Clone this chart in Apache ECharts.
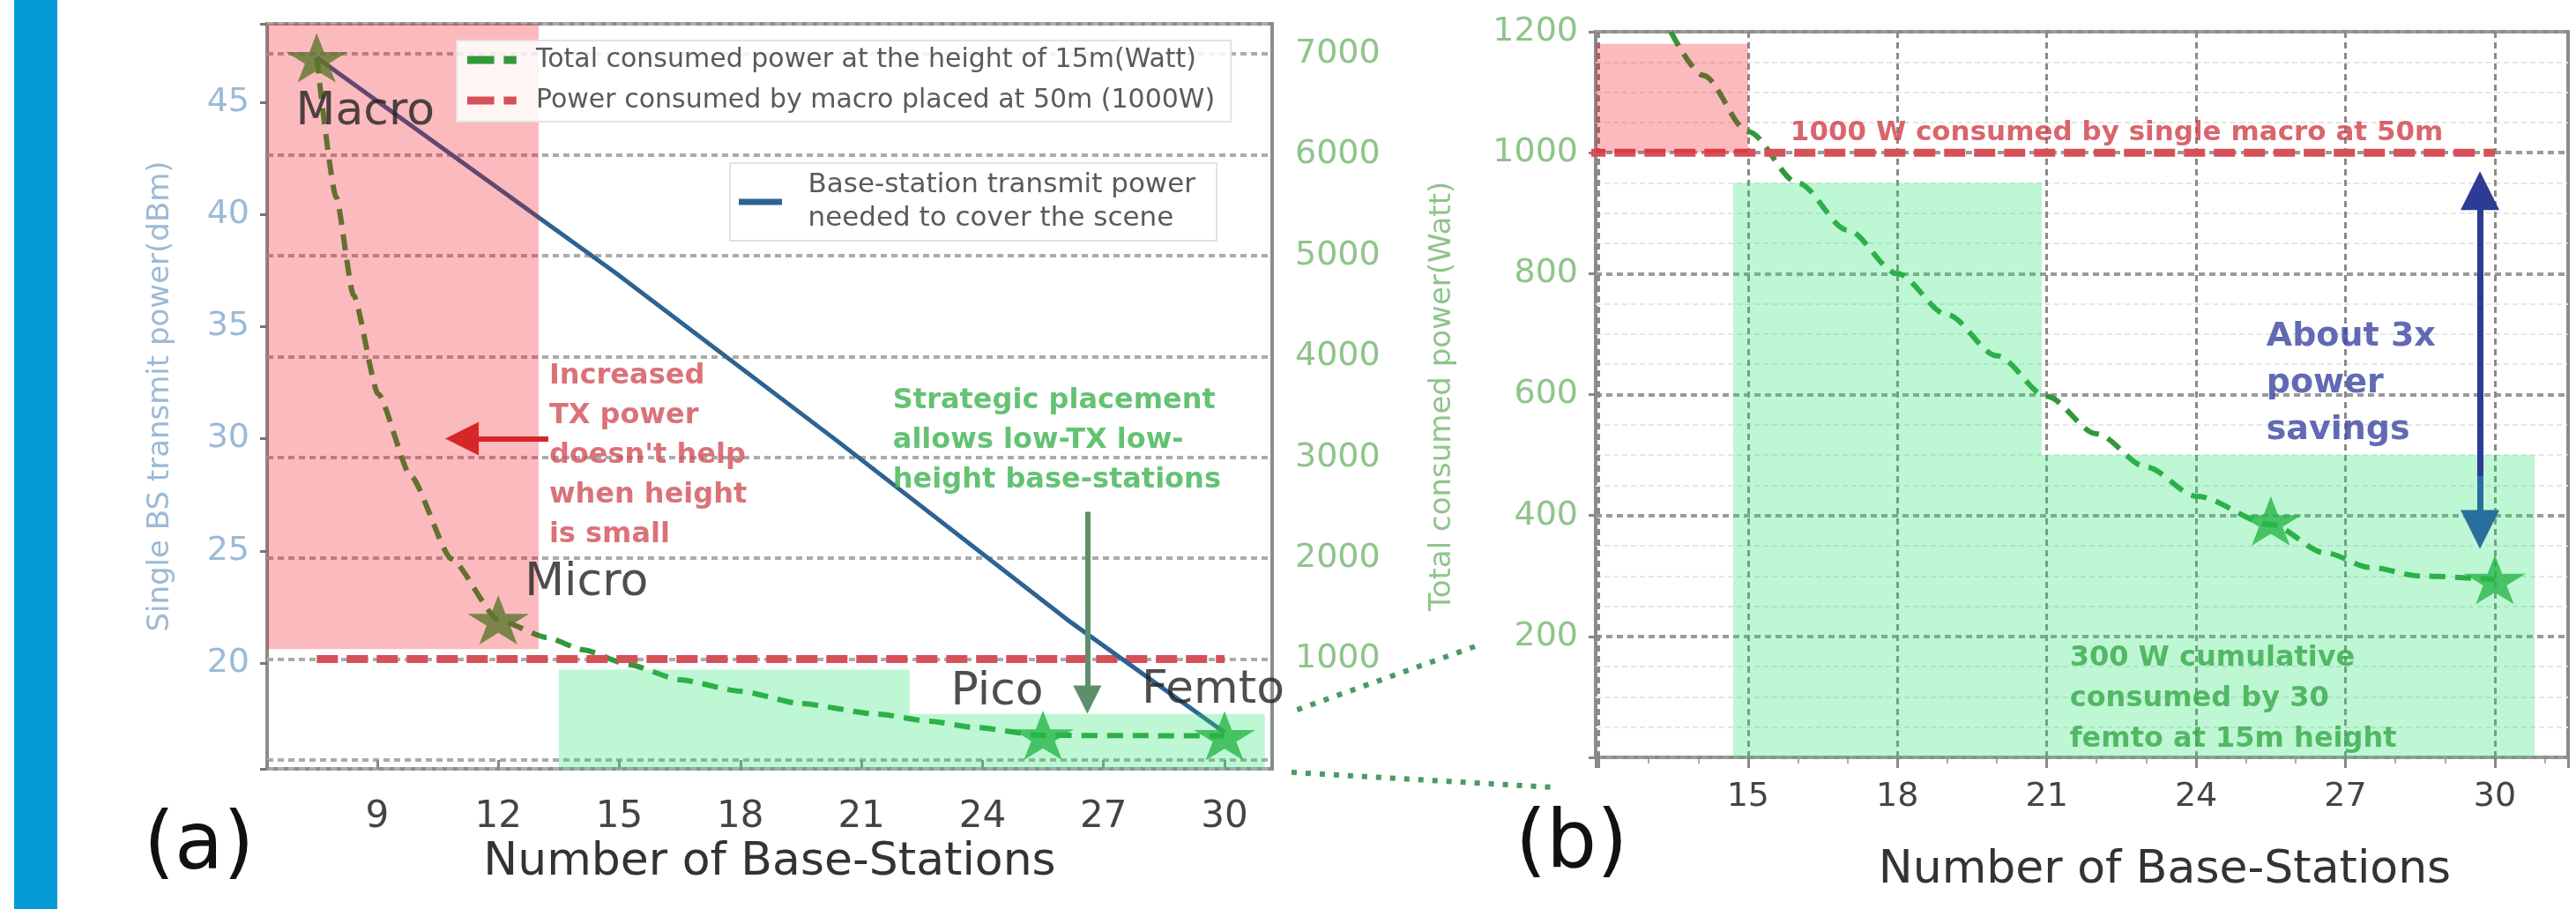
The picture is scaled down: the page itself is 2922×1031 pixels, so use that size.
<!DOCTYPE html>
<html>
<head>
<meta charset="utf-8">
<script src="https://cdn.jsdelivr.net/npm/echarts@6/dist/echarts.min.js"></script>
<style>
html,body{margin:0;padding:0;background:#ffffff;}
#c{width:2922px;height:1031px;}
</style>
</head>
<body>
<div id="c"></div>
<script>
// ================= DATA =================
// stations (star markers)
const stationNames = ['Macro', 'Micro', 'Pico', 'Femto'];
const stationX = [7.5, 12, 25.5, 30];
const stationPowerA = [6960, 1390, 245, 240];       // panel (a), Watt
const stationXB = [25.5, 30];
const stationPowerB = [391, 294];                    // panel (b), Watt

// total consumed power curve at 15 m (panel a)
const curveAX = [7.5, 7.98, 8.41, 9.02, 9.83, 10.84, 12, 13.2, 14.1, 15.25, 16.5, 18, 19.5, 21.4, 22.7, 23.8, 25.5, 27.75, 30];
const curveAW = [6960, 5580, 4610, 3630, 2815, 1993, 1390, 1215, 1093, 944, 795, 682, 559, 455, 385, 323, 245, 242, 240];

// same curve as drawn in the zoomed panel (b)
const curveBX = [13.45, 14.1, 15.0, 16.0, 17.0, 18.0, 19.0, 20.0, 21.0, 22.0, 23.0, 24.0, 25.5, 26.6, 27.5, 28.5, 30];
const curveBW = [1200, 1128, 1035, 950, 872, 800, 732, 664, 597, 535, 480, 432, 385, 338, 314, 300, 294];

// single BS transmit power (dBm)
const txX = [7.5, 14.9, 20.4, 26.2, 30];
const txDbm = [47.0, 37.4, 29.9, 21.8, 16.9];

// macro at 50 m reference level
const macroLineX = [7.5, 30];
const macroLineW = [1000, 1000];

// tick labels
const xTicksA = [9, 12, 15, 18, 21, 24, 27, 30];
const yTicksLeftA = [20, 25, 30, 35, 40, 45];
const yTicksRightA = [1000, 2000, 3000, 4000, 5000, 6000, 7000];
const xTicksB = [15, 18, 21, 24, 27, 30];
const yTicksB = [200, 400, 600, 800, 1000, 1200];

// shaded regions [x0, x1, w0, w1]
const regionsA = [[6.27, 13.0, 1100, 7297], [13.5, 22.2, -87, 897], [22.2, 31.0, -87, 457]];
const regionKindA = ['pink', 'green', 'green'];
const regionsB = [[11.94, 15.0, 1000, 1180], [14.7, 20.9, 0, 950], [20.9, 30.8, 0, 500]];
const regionKindB = ['pink', 'green', 'green'];

// arrows [x0, y0, x1, y1]
const redArrowA = [13.24, 30, 11.1, 30];          // left axis (dBm)
const greenArrowA = [26.6, 2460, 26.6, 600];       // right axis (W)
const savingsArrowUp = [29.7, 465, 29.7, 937];     // panel b (W)
const savingsArrowDown = [29.7, 465, 29.7, 377];

// annotation texts and anchors
const noteRedA = "Increased\nTX power\ndoesn't help\nwhen height\nis small";
const noteRedAPos = [13.26, 4000];
const noteGreenA = "Strategic placement\nallows low-TX low-\nheight base-stations";
const noteGreenAPos = [21.78, 3755];
const noteRedB = "1000 W consumed by single macro at 50m";
const noteRedBPos = [15.85, 1033];
const noteNavyB = "About 3x\npower\nsavings";
const noteNavyBPos = [25.41, 734];
const noteGreenB = "300 W cumulative\nconsumed by 30\nfemto at 15m height";
const noteGreenBPos = [21.46, 197];

// connector anchors (panel a point -> panel b point)
const connUpper = [[31.8, 498], [9.67, 188]];
const connLower = [[31.66, -122], [11.16, -50]];

const NAME_CURVE = 'Total consumed power at the height of 15m(Watt)';
const NAME_MACRO = 'Power consumed by macro placed at 50m (1000W)';
const NAME_TX = 'Base-station transmit power needed to cover the scene';

// ================= STYLE / CHART =================
const FONT = '"DejaVu Sans", Verdana, sans-serif';
const zip = (a, b) => a.map((v, i) => [v, b[i]]);
const STAR = 'path://M50,0 L61.2,34.5 L97.6,34.5 L68.2,55.9 L79.4,90.5 L50,69.1 L20.6,90.5 L31.8,55.9 L2.4,34.5 L38.8,34.5 Z';
const ICON_DASH = 'path://M0,0 H34 V10 H0 Z M46,0 H62 V10 H46 Z';
const ICON_SOLID = 'path://M0,0 H70 V10 H0 Z';
const regionFill = {pink: 'rgba(240,0,14,0.27)', green: 'rgba(40,230,110,0.30)'};
const C_GREEN_LINE = '#2f9a3a';
const C_RED_LINE = '#d65058';
const C_BLUE = '#2d6393';
const C_STAR = '#28a33a';
const labelOffsets = [[55, 62], [100, -41], [-52, -49], [-13, -51]];

function regionRenderer(kinds) {
  return function (params, api) {
    const a = api.coord([api.value(0), api.value(3)]);
    const b = api.coord([api.value(1), api.value(2)]);
    const cs = params.coordSys;
    const shape = echarts.graphic.clipRectByRect(
      {x: a[0], y: a[1], width: b[0] - a[0], height: b[1] - a[1]},
      {x: cs.x, y: cs.y, width: cs.width, height: cs.height});
    if (!shape) return;
    return {type: 'rect', shape: shape, style: {fill: regionFill[kinds[params.dataIndex]]}};
  };
}

function noteSeries(xi, yi, pos, text, color, size, lh, vAlign) {
  return {
    type: 'scatter', xAxisIndex: xi, yAxisIndex: yi, z: 20, silent: true,
    symbolSize: 1, itemStyle: {color: 'rgba(0,0,0,0)'},
    data: [pos],
    label: {
      show: true, position: 'inside', align: 'left', verticalAlign: vAlign || 'top',
      formatter: () => text, color: color, fontSize: size, fontWeight: 'bold',
      lineHeight: lh, fontFamily: FONT
    }
  };
}

function arrowSeries(xi, yi, seg, color, width, size) {
  return {
    type: 'lines', coordinateSystem: 'cartesian2d', xAxisIndex: xi, yAxisIndex: yi,
    z: 15, silent: true,
    symbol: ['none', 'triangle'], symbolSize: size,
    lineStyle: {color: color, width: width, opacity: 1, curveness: 0},
    data: [{coords: [[seg[0], seg[1]], [seg[2], seg[3]]]}]
  };
}

const chart = echarts.init(document.getElementById('c'), null, {renderer: 'canvas'});

const option = {
  animation: false,
  backgroundColor: '#ffffff',
  textStyle: {fontFamily: FONT},
  title: [
    {text: '(a)', left: 158, top: 912, textStyle: {fontSize: 90, fontWeight: 'normal', color: '#111', fontFamily: FONT}},
    {text: '(b)', left: 1714, top: 910, textStyle: {fontSize: 90, fontWeight: 'normal', color: '#111', fontFamily: FONT}}
  ],
  grid: [
    {left: 303, top: 27, width: 1140, height: 845, show: true, borderColor: '#8c8c8c', borderWidth: 4, backgroundColor: '#ffffff', containLabel: false, outerBoundsMode: 'none'},
    {left: 1810, top: 36, width: 1103, height: 823, show: true, borderColor: '#8c8c8c', borderWidth: 4, backgroundColor: '#ffffff', containLabel: false, outerBoundsMode: 'none'}
  ],
  legend: [
    {
      data: [{name: NAME_CURVE, icon: ICON_DASH}, {name: NAME_MACRO, icon: ICON_DASH}],
      orient: 'vertical', left: 518, top: 46, z: 12,
      itemWidth: 62, itemHeight: 9, itemGap: 14, padding: [6, 18, 8, 12],
      backgroundColor: 'rgba(255,255,255,0.85)', borderColor: '#e2e2e2', borderWidth: 2,
      textStyle: {fontSize: 30, color: '#5a5a5a', lineHeight: 32, fontFamily: FONT, padding: [0, 0, 0, 14]},
      selectedMode: false
    },
    {
      data: [{name: NAME_TX, icon: ICON_SOLID}], orient: 'vertical', left: 828, top: 185, z: 12,
      itemWidth: 70, itemHeight: 7, padding: [6, 24, 6, 10],
      backgroundColor: 'rgba(255,255,255,0.85)', borderColor: '#e2e2e2', borderWidth: 2,
      formatter: () => 'Base-station transmit power\nneeded to cover the scene',
      textStyle: {fontSize: 31, color: '#5a5a5a', lineHeight: 38, fontFamily: FONT, padding: [0, 0, 0, 14]},
      selectedMode: false
    }
  ],
  xAxis: [
    {
      gridIndex: 0, type: 'value', min: 6.27, max: 31.18, splitNumber: 8,
      axisLine: {show: false},
      axisTick: {show: true, length: 10, lineStyle: {color: '#888', width: 3}},
      axisLabel: {fontSize: 42, color: '#444', margin: 34, fontFamily: FONT,
        formatter: v => (xTicksA.indexOf(v) >= 0 ? String(v) : '')},
      splitLine: {show: false},
      name: 'Number of Base-Stations', nameLocation: 'middle', nameGap: 78,
      nameTextStyle: {fontSize: 52, color: '#333', fontFamily: FONT}
    },
    {
      gridIndex: 1, type: 'value', min: 11.94, max: 31.47, splitNumber: 6,
      axisLine: {show: false},
      axisTick: {show: true, length: 12, lineStyle: {color: '#888', width: 3}},
      axisLabel: {fontSize: 38, color: '#444', margin: 26, fontFamily: FONT,
        formatter: v => (xTicksB.indexOf(v) >= 0 ? String(v) : '')},
      splitLine: {show: true, lineStyle: {color: '#8a8a8a', width: 3, type: [7, 5]}},
      name: 'Number of Base-Stations', nameLocation: 'middle', nameGap: 102,
      nameTextStyle: {fontSize: 52, color: '#333', fontFamily: FONT, padding: [0, 0, 0, 188]}
    },
    {
      gridIndex: 1, type: 'value', min: 11.94, max: 31.47, splitNumber: 19, position: 'bottom', z: -1,
      axisLine: {show: false},
      axisTick: {show: true, length: 7, lineStyle: {color: '#aaa', width: 2}},
      axisLabel: {show: false},
      splitLine: {show: true, lineStyle: {color: '#e4e4e4', width: 2, type: [6, 4]}}
    }
  ],
  yAxis: [
    {
      gridIndex: 0, type: 'value', position: 'left', min: 15.28, max: 48.5, splitNumber: 7,
      axisLine: {show: false},
      axisTick: {show: true, length: 8, lineStyle: {color: '#777', width: 3}},
      axisLabel: {fontSize: 38, color: '#9bbad6', margin: 20, fontFamily: FONT,
        formatter: v => (yTicksLeftA.indexOf(v) >= 0 ? String(v) : '')},
      splitLine: {show: false},
      name: 'Single BS transmit power(dBm)', nameLocation: 'middle', nameRotate: 90, nameGap: 104,
      nameTextStyle: {fontSize: 34, color: '#9bbad6', fontFamily: FONT}
    },
    {
      gridIndex: 0, type: 'value', position: 'right', min: -87, max: 7297, splitNumber: 7,
      axisLine: {show: false},
      axisTick: {show: false},
      axisLabel: {fontSize: 38, color: '#8fc48a', margin: 26, fontFamily: FONT,
        formatter: v => (yTicksRightA.indexOf(v) >= 0 ? String(v) : '')},
      splitLine: {show: true, lineStyle: {color: '#ababab', width: 4, type: [7, 5]}},
      name: 'Total consumed power(Watt)', nameLocation: 'middle', nameRotate: 90, nameGap: 176,
      nameTextStyle: {fontSize: 34, color: '#8fc48a', fontFamily: FONT}
    },
    {
      gridIndex: 0, type: 'value', position: 'right', min: -87, max: 7297, splitNumber: 37, z: -1,
      axisLine: {show: false}, axisTick: {show: false}, axisLabel: {show: false},
      splitLine: {show: true, lineStyle: {color: '#e8e8e8', width: 2, type: [6, 4]}}
    },
    {
      gridIndex: 1, type: 'value', position: 'left', min: 0, max: 1200, interval: 200,
      axisLine: {show: false},
      axisTick: {show: true, length: 8, lineStyle: {color: '#888', width: 3}},
      axisLabel: {fontSize: 38, color: '#8fc48a', margin: 20, fontFamily: FONT,
        formatter: v => (yTicksB.indexOf(v) >= 0 ? String(v) : '')},
      splitLine: {show: true, lineStyle: {color: '#9a9a9a', width: 4, type: [7, 5]}},
      minorTick: {show: false, splitNumber: 4},
      minorSplitLine: {show: true, lineStyle: {color: '#e6e6e6', width: 2, type: [6, 4]}}
    }
  ],
  series: [
    // 0: curve (a)
    {
      name: NAME_CURVE, type: 'line', xAxisIndex: 0, yAxisIndex: 1, z: 3,
      data: zip(curveAX, curveAW), symbol: 'none', smooth: 0.2, smoothMonotone: 'x',
      lineStyle: {color: C_GREEN_LINE, width: 6, type: [18, 11]}, itemStyle: {color: C_GREEN_LINE}
    },
    // 1: macro level (a)
    {
      name: NAME_MACRO, type: 'line', xAxisIndex: 0, yAxisIndex: 1, z: 3,
      data: zip(macroLineX, macroLineW), symbol: 'none',
      lineStyle: {color: C_RED_LINE, width: 9, type: [24, 10]}, itemStyle: {color: C_RED_LINE}
    },
    // 2: transmit power
    {
      name: NAME_TX, type: 'line', xAxisIndex: 0, yAxisIndex: 0, z: 3,
      data: zip(txX, txDbm), symbol: 'none',
      lineStyle: {color: C_BLUE, width: 5}, itemStyle: {color: C_BLUE}
    },
    // 3: stars (a)
    {
      name: 'stations', type: 'scatter', xAxisIndex: 0, yAxisIndex: 1, z: 4,
      data: zip(stationX, stationPowerA), symbol: STAR, symbolSize: [70, 56],
      itemStyle: {color: C_STAR}
    },
    // 4: curve (b)
    {
      name: NAME_CURVE, type: 'line', xAxisIndex: 1, yAxisIndex: 3, z: 3,
      data: zip(curveBX, curveBW), symbol: 'none', smooth: 0.3, smoothMonotone: 'x',
      lineStyle: {color: C_GREEN_LINE, width: 6, type: [18, 11]}, itemStyle: {color: C_GREEN_LINE}
    },
    // 5: macro level (b)
    {
      name: NAME_MACRO, type: 'line', xAxisIndex: 1, yAxisIndex: 3, z: 3,
      data: zip(macroLineX, macroLineW), symbol: 'none',
      lineStyle: {color: C_RED_LINE, width: 9, type: [24, 10]}, itemStyle: {color: C_RED_LINE}
    },
    // 6: stars (b)
    {
      name: 'stationsB', type: 'scatter', xAxisIndex: 1, yAxisIndex: 3, z: 4,
      data: zip(stationXB, stationPowerB), symbol: STAR, symbolSize: [70, 56],
      itemStyle: {color: C_STAR}
    },
    // 7/8: shaded regions
    {
      type: 'custom', xAxisIndex: 0, yAxisIndex: 1, z: 10, silent: true,
      data: regionsA, encode: {x: [0, 1], y: [2, 3]}, renderItem: regionRenderer(regionKindA)
    },
    {
      type: 'custom', xAxisIndex: 1, yAxisIndex: 3, z: 10, silent: true,
      data: regionsB, encode: {x: [0, 1], y: [2, 3]}, renderItem: regionRenderer(regionKindB)
    },
    // arrows
    arrowSeries(0, 0, redArrowA, '#d62728', 6, 38),
    arrowSeries(0, 1, greenArrowA, '#5d8f6a', 6, 32),
    arrowSeries(1, 3, savingsArrowUp, '#2c3c94', 7, 44),
    arrowSeries(1, 3, savingsArrowDown, '#2a6e9e', 7, 44),
    // station labels
    {
      type: 'scatter', xAxisIndex: 0, yAxisIndex: 1, z: 20, silent: true,
      symbolSize: 1, itemStyle: {color: 'rgba(0,0,0,0)'},
      data: stationX.map((x, i) => ({
        value: [x, stationPowerA[i]], name: stationNames[i],
        label: {offset: labelOffsets[i]}
      })),
      label: {show: true, position: 'inside', formatter: p => p.name,
        fontSize: 52, color: '#222', fontFamily: FONT}
    },
    // notes
    noteSeries(0, 1, noteRedAPos, noteRedA, '#d24f57', 32, 45),
    noteSeries(0, 1, noteGreenAPos, noteGreenA, '#3db350', 32, 45),
    noteSeries(1, 3, noteRedBPos, noteRedB, '#cf3e48', 31, 36, 'middle'),
    noteSeries(1, 3, noteNavyBPos, noteNavyB, '#3a45a0', 38, 53),
    noteSeries(1, 3, noteGreenBPos, noteGreenB, '#37a84a', 32, 46)
  ],
  graphic: [
    {id: 'bar', type: 'rect', left: 16, top: 0, shape: {width: 49, height: 1031}, style: {fill: '#079bd6'}, z: 1}
  ]
};

chart.setOption(option);

const pA = p => chart.convertToPixel({seriesIndex: 0}, p);
const pB = p => chart.convertToPixel({seriesIndex: 4}, p);
chart.setOption({
  graphic: [
    {id: 'bar', type: 'rect', left: 16, top: 0, shape: {width: 49, height: 1031}, style: {fill: '#079bd6'}, z: 1},
    {id: 'c1', type: 'polyline', z: 30, shape: {points: [pA(connUpper[0]), pB(connUpper[1])]},
      style: {stroke: '#4a9a64', lineWidth: 6, lineDash: [6, 10], fill: null}},
    {id: 'c2', type: 'polyline', z: 30, shape: {points: [pA(connLower[0]), pB(connLower[1])]},
      style: {stroke: '#4a9a64', lineWidth: 6, lineDash: [6, 10], fill: null}}
  ]
});
</script>
</body>
</html>
